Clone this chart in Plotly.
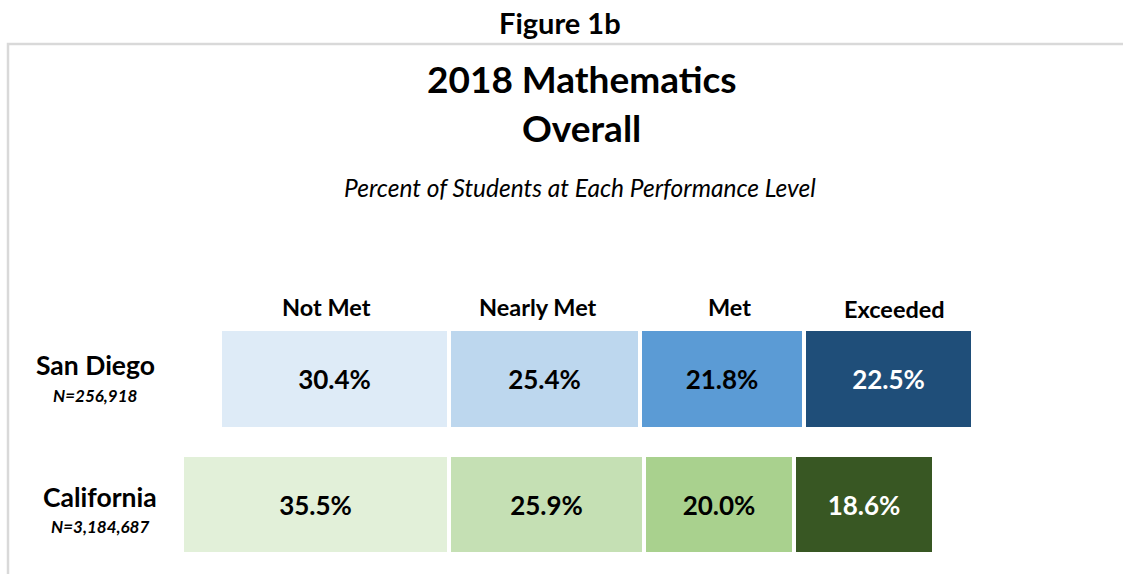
import plotly.graph_objects as go

# ----- data --------------------------------------------------------------------
regions = ['San Diego', 'California']
region_n = ['N=256,918', 'N=3,184,687']
levels = ['Not Met', 'Nearly Met', 'Met', 'Exceeded']

not_met = [30.4, 35.5]
nearly_met = [25.4, 25.9]
met = [21.8, 20.0]
exceeded = [22.5, 18.6]

# ----- colours ------------------------------------------------------------------
blues = ['#DEEBF7', '#BDD7EE', '#5B9BD5', '#1F4E79']
greens = ['#E2F0D9', '#C5E0B4', '#A9D18E', '#385723']
text_cols = ['black', 'black', 'black', 'white']

W, H = 1123, 574
FONT = 'Lato'


def px_x(p):
    return p / W


def px_y(p):
    return 1 - p / H


series = [not_met, nearly_met, met, exceeded]

fig = go.Figure()
for i, (lvl, vals) in enumerate(zip(levels, series)):
    # not met goes to the left of zero, everything else stacks to the right
    xs = [-v for v in vals] if i == 0 else vals
    fig.add_trace(go.Bar(
        y=regions,
        x=xs,
        orientation='h',
        name=lvl,
        marker=dict(color=[blues[i], greens[i]],
                    line=dict(color='white', width=4)),
        text=[f'{v:.1f}%' for v in vals],
        textposition='inside',
        insidetextanchor='middle',
        textangle=0,
        textfont=dict(family=FONT, size=26, color=text_cols[i], weight='bold'),
        width=0.79,
        hoverinfo='skip',
    ))

# ----- level headers over the San Diego bar ---------------------------------------
sd = [s[0] for s in series]
centers = [-sd[0] / 2,
           sd[1] / 2,
           sd[1] + sd[2] / 2,
           sd[1] + sd[2] + sd[3] / 2]
head_dx = [-8, -7, 8, 6]
head_dy = [72, 72, 72, 70]
for lvl, cx, dx, dy in zip(levels, centers, head_dx, head_dy):
    fig.add_annotation(x=cx, y=regions[0], text=f'<b>{lvl}</b>',
                       showarrow=False, xshift=dx, yshift=dy,
                       font=dict(family=FONT, size=23.5, color='black'))

# ----- row labels -----------------------------------------------------------------
row_x = [95, 100]
name_dy = [14, 8]
n_dy = [-16, -22]
for reg, n, rx, d1, d2 in zip(regions, region_n, row_x, name_dy, n_dy):
    fig.add_annotation(x=px_x(rx), xref='paper', xanchor='center', y=reg,
                       text=f'<b>{reg}</b>', showarrow=False, yshift=d1,
                       font=dict(family=FONT, size=26.5, color='black'))
    fig.add_annotation(x=px_x(rx), xref='paper', xanchor='center', y=reg,
                       text=f'<b><i>{n}</i></b>', showarrow=False, yshift=d2,
                       font=dict(family=FONT, size=17, color='black'))

# ----- titles -----------------------------------------------------------------------
titles = [
    ('<b>Figure 1b</b>', 560, 22, 29, 'normal'),
    ('<b>2018 Mathematics</b>', 582, 78, 37, 'normal'),
    ('<b>Overall</b>', 581, 128, 37, 'normal'),
    ('Percent of Students at Each Performance Level', 580, 187, 24.5, 'italic'),
]
for txt, tx, ty, sz, st in titles:
    fig.add_annotation(x=px_x(tx), y=px_y(ty), xref='paper', yref='paper',
                       text=txt, showarrow=False, xanchor='center', yanchor='middle',
                       font=dict(family=FONT, size=sz, color='black', style=st))

# light grey frame: left and top edges only
fig.add_shape(type='path', xref='paper', yref='paper',
              path=f'M {px_x(8)},{px_y(H)} L {px_x(8)},{px_y(44)} L {px_x(W)},{px_y(44)}',
              line=dict(color='#D9D9D9', width=2.5))

# zero (not met / nearly met boundary) sits at ~449 px, ~7.52 px per percent
zero_px, scale = 449, 7.52
row0_px, row_step = 379, 125.5
fig.update_layout(
    barmode='relative',
    width=W, height=H,
    margin=dict(l=0, r=0, t=0, b=0),
    paper_bgcolor='white',
    plot_bgcolor='white',
    showlegend=False,
    bargap=0,
    xaxis=dict(range=[-zero_px / scale, (W - zero_px) / scale],
               visible=False, fixedrange=True),
    yaxis=dict(range=[(H - row0_px) / row_step, -row0_px / row_step],
               visible=False, fixedrange=True),
    font=dict(family=FONT),
)

fig.write_html('out.html', config={'displayModeBar': False},
               post_script="document.body.style.margin='0';")
